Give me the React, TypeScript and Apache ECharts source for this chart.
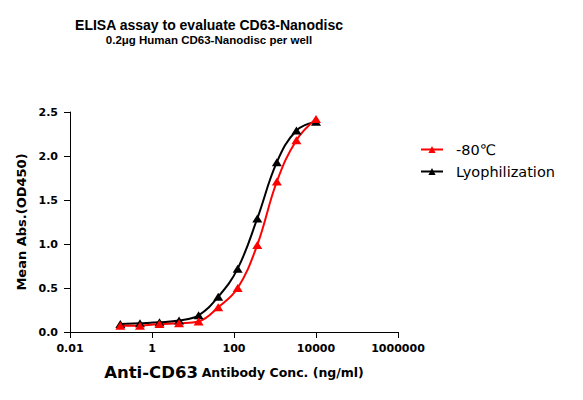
import React, { useEffect, useRef } from 'react';
import * as echarts from 'echarts';

// 3-fold dilution series, ng/ml
const concentrations = [0.169, 0.508, 1.52, 4.57, 13.7, 41.2, 123, 370, 1111, 3333, 10000];
const frozenOD = [0.072, 0.072, 0.09, 0.1, 0.12, 0.28, 0.5, 0.99, 1.71, 2.18, 2.42];
const lyoOD = [0.09, 0.1, 0.11, 0.13, 0.19, 0.4, 0.72, 1.29, 1.93, 2.29, 2.39];
const xTickLabels = ['0.01', '1', '100', '10000', '1000000'];
const yTickLabels = ['0.0', '0.5', '1.0', '1.5', '2.0', '2.5'];

const FONT = '"DejaVu Sans", "Liberation Sans", Arial, sans-serif';
const TITLE_FONT = '"Liberation Sans", Arial, sans-serif';

const App: React.FC = () => {
  const chartRef = useRef<HTMLDivElement>(null);

  useEffect(() => {
    if (!chartRef.current) return;
    const chart = echarts.init(chartRef.current, undefined, { renderer: 'svg' });

    const pairs = (ys: number[]) => concentrations.map((c, i) => [c, ys[i]]);

    const option = {
      animation: false,
      textStyle: { fontFamily: FONT },
      graphic: [
        {
          type: 'text',
          x: 209,
          y: 25,
          style: {
            text: 'ELISA assay to evaluate CD63-Nanodisc',
            font: 'bold 14px ' + TITLE_FONT,
            fill: '#000',
            align: 'center',
            verticalAlign: 'middle',
          },
        },
        {
          type: 'text',
          x: 209,
          y: 40,
          style: {
            text: '0.2μg Human CD63-Nanodisc per well',
            font: 'bold 11.5px ' + TITLE_FONT,
            fill: '#000',
            align: 'center',
            verticalAlign: 'middle',
          },
        },
      ],
      legend: {
        orient: 'vertical',
        left: 415,
        top: 137,
        itemWidth: 22,
        itemHeight: 9,
        itemGap: 7,
        data: ['-80℃', 'Lyophilization'],
        textStyle: { fontSize: 14.5, color: '#000', fontFamily: FONT, padding: [0, 0, 0, 8] },
      },
      grid: { left: 70, right: 185, top: 112, bottom: 68 },
      xAxis: {
        type: 'log',
        logBase: 10,
        min: 0.01,
        max: 1000000,
        interval: 2,
        name: '{a|Anti-CD63} {b|Antibody Conc. (ng/ml)}',
        nameLocation: 'middle',
        nameGap: 32,
        nameTextStyle: {
          rich: {
            a: { fontSize: 16.5, fontWeight: 'bold', color: '#000', fontFamily: FONT },
            b: { fontSize: 12.5, fontWeight: 'bold', color: '#000', fontFamily: FONT },
          },
        },
        axisLine: { lineStyle: { color: '#000', width: 1 } },
        axisTick: { show: true, length: 6, lineStyle: { color: '#000' } },
        minorTick: { show: false },
        splitLine: { show: false },
        axisLabel: {
          color: '#000',
          fontSize: 11,
          fontWeight: 'bold',
          margin: 11,
          formatter: (_v: number, i: number) => xTickLabels[i] ?? '',
        },
      },
      yAxis: {
        type: 'value',
        min: 0,
        max: 2.5,
        interval: 0.5,
        name: 'Mean Abs.(OD450)',
        nameLocation: 'middle',
        nameGap: 41,
        nameTextStyle: { fontSize: 13, fontWeight: 'bold', color: '#000', fontFamily: FONT },
        axisLine: { show: true, lineStyle: { color: '#000', width: 1 } },
        axisTick: { show: true, length: 6, lineStyle: { color: '#000' } },
        splitLine: { show: false },
        axisLabel: {
          color: '#000',
          fontSize: 11,
          fontWeight: 'bold',
          margin: 12,
          formatter: (_v: number, i: number) => yTickLabels[i] ?? '',
        },
      },
      series: [
        {
          name: 'Lyophilization',
          type: 'line',
          data: pairs(lyoOD),
          smooth: 0.4,
          symbol: 'triangle',
          symbolSize: [10, 8],
          itemStyle: { color: '#000' },
          lineStyle: { color: '#000', width: 2 },
        },
        {
          name: '-80℃',
          type: 'line',
          data: pairs(frozenOD),
          smooth: 0.4,
          symbol: 'triangle',
          symbolSize: [10, 8],
          itemStyle: { color: '#ff0000' },
          lineStyle: { color: '#ff0000', width: 2 },
        },
      ],
    };

    chart.setOption(option as any);
    return () => {
      chart.dispose();
    };
  }, []);

  return (
    <div
      ref={chartRef}
      style={{ position: 'fixed', left: 0, top: 0, width: 583, height: 400, background: '#fff' }}
    />
  );
};

export default App;
